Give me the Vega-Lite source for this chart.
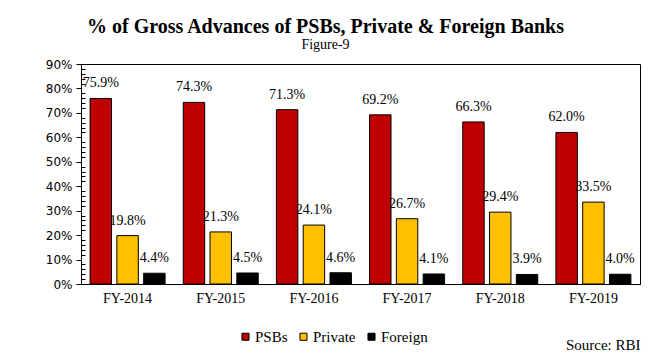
{
  "$schema": "https://vega.github.io/schema/vega-lite/v6.json",
  "width": 559,
  "height": 220,
  "autosize": {"type": "none"},
  "padding": {"left": 81, "top": 64, "right": 10, "bottom": 76},
  "background": "white",
  "title": {
    "text": "% of Gross Advances of PSBs, Private & Foreign Banks",
    "subtitle": "Figure-9",
    "font": "Liberation Serif",
    "fontSize": 20,
    "fontWeight": "bold",
    "subtitleFont": "Liberation Serif",
    "subtitleFontSize": 14,
    "subtitleColor": "black",
    "subtitlePadding": 1,
    "color": "black",
    "anchor": "middle",
    "dx": -35,
    "offset": 6
  },
  "data": {
    "values": [
      {"year": "FY-2014", "bank": "PSBs", "value": 0.759, "label": "75.9%"},
      {"year": "FY-2014", "bank": "Private", "value": 0.198, "label": "19.8%"},
      {"year": "FY-2014", "bank": "Foreign", "value": 0.044, "label": "4.4%"},
      {"year": "FY-2015", "bank": "PSBs", "value": 0.743, "label": "74.3%"},
      {"year": "FY-2015", "bank": "Private", "value": 0.213, "label": "21.3%"},
      {"year": "FY-2015", "bank": "Foreign", "value": 0.045, "label": "4.5%"},
      {"year": "FY-2016", "bank": "PSBs", "value": 0.713, "label": "71.3%"},
      {"year": "FY-2016", "bank": "Private", "value": 0.241, "label": "24.1%"},
      {"year": "FY-2016", "bank": "Foreign", "value": 0.046, "label": "4.6%"},
      {"year": "FY-2017", "bank": "PSBs", "value": 0.692, "label": "69.2%"},
      {"year": "FY-2017", "bank": "Private", "value": 0.267, "label": "26.7%"},
      {"year": "FY-2017", "bank": "Foreign", "value": 0.041, "label": "4.1%"},
      {"year": "FY-2018", "bank": "PSBs", "value": 0.663, "label": "66.3%"},
      {"year": "FY-2018", "bank": "Private", "value": 0.294, "label": "29.4%"},
      {"year": "FY-2018", "bank": "Foreign", "value": 0.039, "label": "3.9%"},
      {"year": "FY-2019", "bank": "PSBs", "value": 0.620, "label": "62.0%"},
      {"year": "FY-2019", "bank": "Private", "value": 0.335, "label": "33.5%"},
      {"year": "FY-2019", "bank": "Foreign", "value": 0.040, "label": "4.0%"}
    ]
  },
  "encoding": {
    "x": {
      "field": "year",
      "type": "nominal",
      "sort": null,
      "scale": {"paddingInner": 0.195, "paddingOuter": 0.0975},
      "axis": {
        "title": "Source: RBI",
        "titleAnchor": "end",
        "titleAlign": "right",
        "titleFont": "Liberation Serif",
        "titleFontSize": 15,
        "titleFontWeight": "normal",
        "titleColor": "black",
        "titlePadding": 32,
        "labelAngle": 0,
        "labelFont": "Liberation Serif",
        "labelFontSize": 14,
        "labelColor": "black",
        "labelPadding": 7,
        "ticks": false,
        "domainColor": "black",
        "grid": false
      }
    },
    "xOffset": {
      "field": "bank",
      "type": "nominal",
      "sort": ["PSBs", "Private", "Foreign"],
      "scale": {"paddingInner": 0.2, "paddingOuter": 0}
    }
  },
  "layer": [
    {
      "mark": {"type": "bar", "stroke": "black", "strokeWidth": 1},
      "encoding": {
        "y": {
          "field": "value",
          "type": "quantitative",
          "scale": {"domain": [0, 0.9], "nice": false},
          "axis": {
            "title": null,
            "format": ".0%",
            "values": [0, 0.1, 0.2, 0.3, 0.4, 0.5, 0.6, 0.7, 0.8, 0.9],
            "labelFont": "DejaVu Sans",
            "labelFontSize": 12,
            "labelColor": "black",
            "labelPadding": 4,
            "tickColor": "black",
            "tickSize": 5,
            "domainColor": "black",
            "grid": false
          }
        },
        "color": {
          "field": "bank",
          "type": "nominal",
          "sort": ["PSBs", "Private", "Foreign"],
          "scale": {"domain": ["PSBs", "Private", "Foreign"], "range": ["#C00000", "#FFC000", "#000000"]},
          "legend": {
            "title": null,
            "orient": "none",
            "direction": "horizontal",
            "legendX": 157,
            "legendY": 265,
            "symbolType": "square",
            "symbolSize": 50,
            "symbolStrokeColor": "black",
            "symbolStrokeWidth": 1,
            "symbolOpacity": 1,
            "labelFontSize": 15,
            "labelColor": "black",
            "labelOffset": 2,
            "columnPadding": 8
          }
        }
      }
    },
    {
      "mark": {"type": "text", "font": "Liberation Serif", "fontSize": 14, "color": "black", "baseline": "middle", "dy": -15},
      "encoding": {
        "text": {"field": "label"},
        "y": {
          "field": "value",
          "type": "quantitative",
          "scale": {"domain": [0, 0.9], "nice": false},
          "axis": {
            "title": null,
            "orient": "left",
            "offset": 0,
            "labels": false,
            "domain": false,
            "grid": false,
            "ticks": true,
            "values": [0.02, 0.04, 0.06, 0.08, 0.12, 0.14, 0.16, 0.18, 0.22, 0.24, 0.26, 0.28, 0.32, 0.34, 0.36, 0.38, 0.42, 0.44, 0.46, 0.48, 0.52, 0.54, 0.56, 0.58, 0.62, 0.64, 0.66, 0.68, 0.72, 0.74, 0.76, 0.78, 0.82, 0.84, 0.86, 0.88],
            "tickSize": -4,
            "tickColor": "black",
            "tickWidth": 1
          }
        }
      }
    }
  ],
  "resolve": {"scale": {"y": "independent"}, "axis": {"y": "independent"}},
  "config": {
    "font": "Liberation Serif",
    "view": {"stroke": "black", "strokeWidth": 1}
  }
}
